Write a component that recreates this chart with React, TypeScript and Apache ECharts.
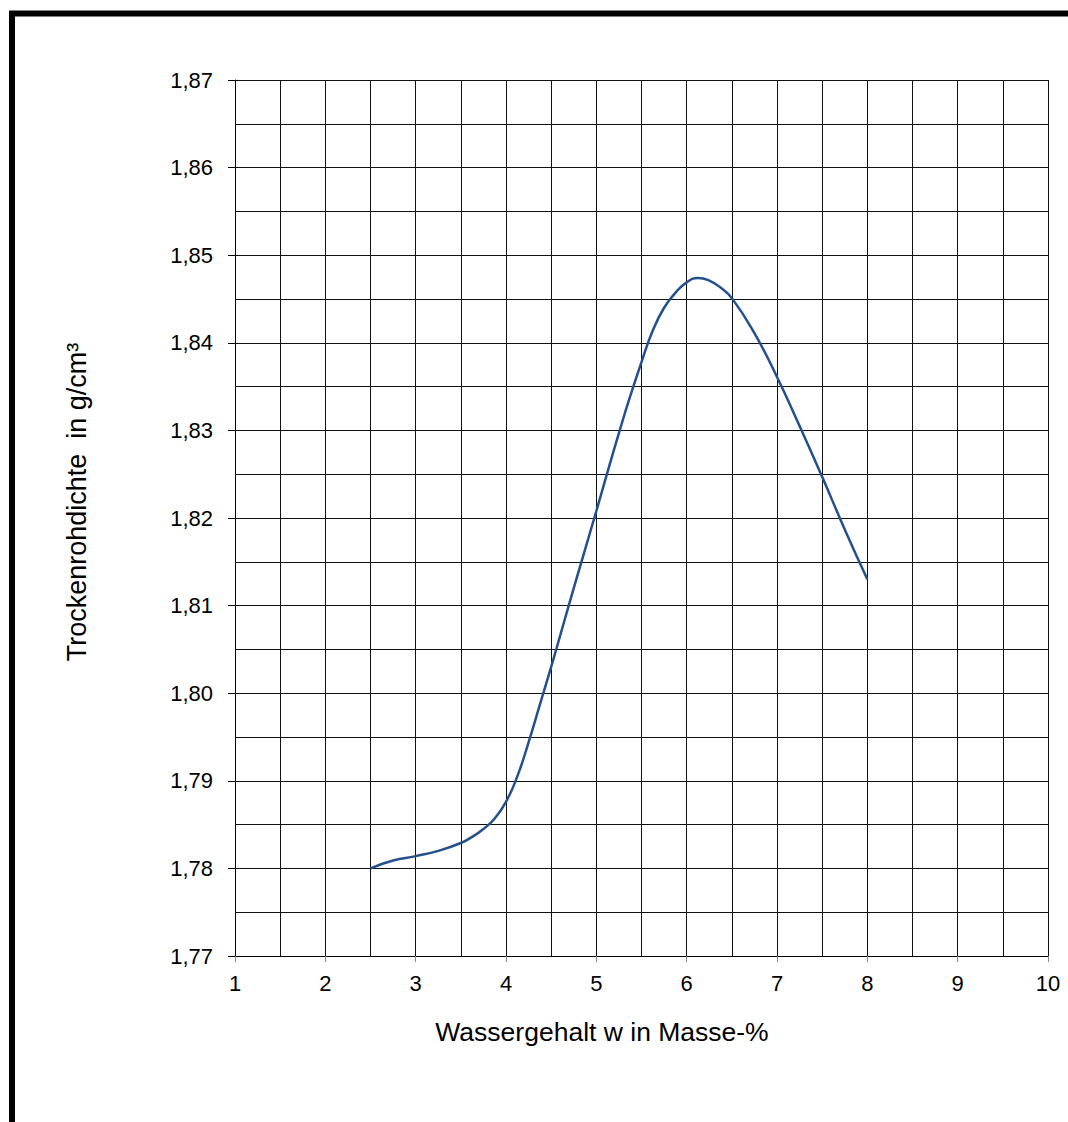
import React, { useEffect, useRef } from "react";
import * as echarts from "echarts";

const waterContent = [2.5, 2.75, 3.0, 3.25, 3.5, 3.625, 3.75, 3.875, 4.0, 4.125, 4.25, 4.375, 4.5, 4.625, 4.75, 4.875, 5.0, 5.125, 5.25, 5.375, 5.5, 5.625, 5.75, 5.875, 6.0, 6.125, 6.25, 6.375, 6.5, 6.75, 7.0, 7.25, 7.5, 7.75, 8.0];
const dryDensity = [1.78, 1.7809, 1.7814, 1.782, 1.7829, 1.7836, 1.7845, 1.7857, 1.7876, 1.7905, 1.7944, 1.7987, 1.803, 1.8075, 1.812, 1.8164, 1.8208, 1.8253, 1.8297, 1.8339, 1.8378, 1.8414, 1.844, 1.8457, 1.8469, 1.8474, 1.8471, 1.8463, 1.8451, 1.8411, 1.8361, 1.8305, 1.8247, 1.8187, 1.813];
const xTitle = "Wassergehalt w in Masse-%";
const yTitle = "Trockenrohdichte  in g/cm³";

export default function App() {
  const ref = useRef<HTMLDivElement>(null);
  useEffect(() => {
    const chart = echarts.init(ref.current!, null, { renderer: "svg" });
    const font = "'Liberation Sans', Arial, sans-serif";
    chart.setOption({
      animation: false,
      backgroundColor: "#fff",
      grid: { left: 235, right: 20, top: 80, bottom: 166, containLabel: false },
      xAxis: {
        type: "value",
        min: 1,
        max: 10,
        interval: 1,
        axisLine: { show: true, lineStyle: { color: "#000", width: 1 } },
        axisTick: { show: true, length: 6, lineStyle: { color: "#888" } },
        minorTick: { show: false, splitNumber: 2 },
        splitLine: { show: true, lineStyle: { color: "#111", width: 1 } },
        minorSplitLine: { show: true, lineStyle: { color: "#111", width: 1 } },
        axisLabel: { color: "#000", fontSize: 22, fontFamily: font, margin: 16 },
      },
      yAxis: {
        type: "value",
        min: 1.77,
        max: 1.87,
        interval: 0.01,
        axisLine: { show: true, lineStyle: { color: "#000", width: 1 } },
        axisTick: { show: true, length: 7, lineStyle: { color: "#000" } },
        minorTick: { show: false, splitNumber: 2 },
        splitLine: { show: true, lineStyle: { color: "#111", width: 1 } },
        minorSplitLine: { show: true, lineStyle: { color: "#111", width: 1 } },
        axisLabel: {
          color: "#000",
          fontSize: 22,
          fontFamily: font,
          margin: 22,
          formatter: (v: number) => v.toFixed(2).replace(".", ","),
        },
      },
      series: [
        {
          type: "line",
          data: waterContent.map((x, i) => [x, dryDensity[i]]),
          smooth: 0.5,
          showSymbol: false,
          lineStyle: { color: "#24508c", width: 2.5 },
        },
      ],
      graphic: [
        {
          type: "rect",
          shape: { x: 12, y: 13.5, width: 1200, height: 1200 },
          style: { fill: "none", stroke: "#000", lineWidth: 6 },
          silent: true,
        },
        {
          type: "text",
          x: 602,
          y: 1032,
          style: { text: xTitle, fill: "#000", fontSize: 26.5, fontFamily: font, align: "center", verticalAlign: "middle" },
        },
        {
          type: "text",
          x: 77,
          y: 502,
          rotation: Math.PI / 2,
          style: { text: yTitle, fill: "#000", fontSize: 27, fontFamily: font, align: "center", verticalAlign: "middle" },
        },
      ],
    });
    return () => chart.dispose();
  }, []);
  return <div ref={ref} style={{ position: "fixed", left: 0, top: 0, width: 1068, height: 1122 }} />;
}
